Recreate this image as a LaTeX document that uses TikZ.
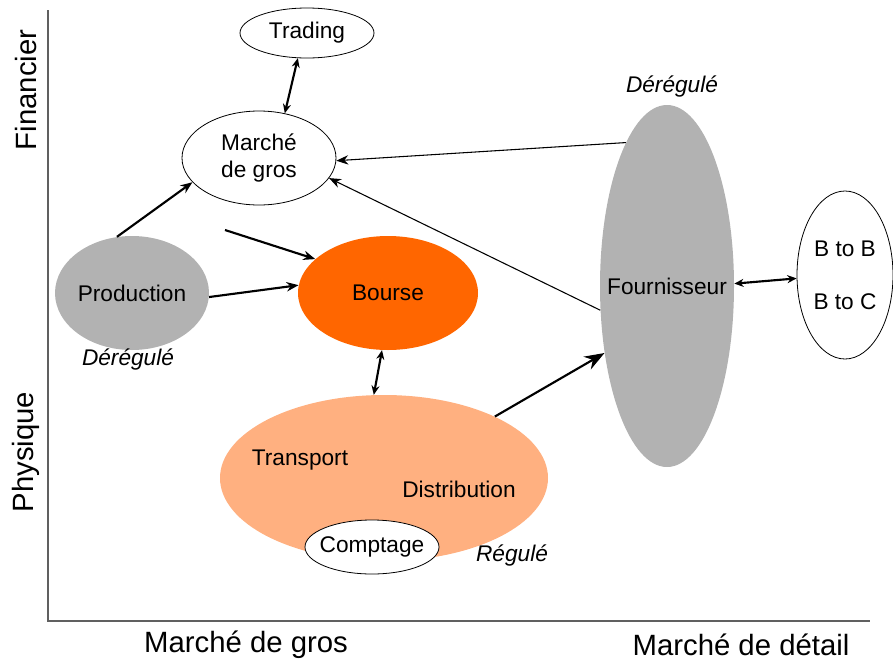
\documentclass[tikz,border=0pt]{standalone}
\usepackage{fontspec}
\setmainfont{Liberation Sans}
\usepackage{xcolor}
\usetikzlibrary{arrows.meta,positioning,shapes.geometric}

\definecolor{grisfonce}{RGB}{96,96,96}
\definecolor{grisbulle}{RGB}{178,178,178}
\definecolor{orangevif}{RGB}{255,102,0}
\definecolor{saumon}{RGB}{255,176,128}

\begin{document}
\begin{tikzpicture}[
  x=0.75pt, y=-0.75pt,
  every node/.style={font=\fontsize{17}{20}\selectfont},
  bulle/.style={ellipse, draw, line width=0.6pt, fill=white, inner sep=0pt},
  zone/.style={ellipse, inner sep=0pt},
  axetitre/.style={font=\fontsize{22}{26}\selectfont},
  statut/.style={font=\fontsize{17}{20}\selectfont\itshape},
  axe/.style={draw=grisfonce, line width=2pt},
  fleche/.style={-{Stealth[length=9pt,width=7pt]}, line width=1.6pt},
  fine/.style={-{Stealth[length=9pt,width=7pt]}, line width=0.8pt},
  double/.style={{Stealth[length=7pt,width=6pt]}-{Stealth[length=7pt,width=6pt]}, line width=1.6pt}
]
\useasboundingbox (0,0) rectangle (893,661);

% axes
\draw[axe] (48,10) -- (48,621) -- (870,621);
\node[axetitre, rotate=90] (financier) at (26,90) {Financier};
\node[axetitre, rotate=90] (physique) at (26,452) {Physique};
\node[axetitre] (axegros) at (246,645) {Marché de gros};
\node[axetitre] (axedetail) at (741,645) {Marché de détail};

% bulles
\node[bulle, minimum width=100.5pt, minimum height=37.5pt, label=center:Trading] (trading) at (307,33) {};
\node[bulle, minimum width=115.5pt, minimum height=70.5pt, label={[align=center]center:Marché\\de gros}] (marche) at (259,158) {};
\node[zone, fill=grisbulle, minimum width=115.5pt, minimum height=85.5pt, label=center:Production] (prod) at (132,293) {};
\node[zone, fill=orangevif, minimum width=135pt, minimum height=85.5pt, label=center:Bourse] (bourse) at (388,293) {};
\node[zone, fill=saumon, minimum width=246pt, minimum height=124.5pt] (reseau) at (384,478) {};
\node (transport) at (300,460) {Transport};
\node (distrib) at (459,489) {Distribution};
\node[bulle, minimum width=100.5pt, minimum height=40.5pt, label=center:Comptage] (comptage) at (372,547) {};
\node[zone, fill=grisbulle, minimum width=100.5pt, minimum height=271.5pt, label=center:Fournisseur] (fourn) at (667,286) {};
\node[bulle, minimum width=72pt, minimum height=126pt, label={[align=center]center:B to B\\[20pt]B to C}] (clients) at (845,275) {};

% statuts
\node[statut] (dereg1) at (128,360) {Dérégulé};
\node[statut] (dereg2) at (672,87) {Dérégulé};
\node[statut] (regule) at (512,555) {Régulé};

% fleches
\coordinate (libre) at (225,230);
\draw[double] (trading.250) -- (marche.60);
\draw[fleche] (prod.105) -- (marche.200);
\draw[fleche] (prod.-3) -- (bourse.175);
\draw[fleche] (libre) -- (bourse.155);
\draw[double] (bourse.264) -- (reseau.97);
\draw[-{Stealth[length=15pt,width=11pt]}, line width=1.6pt] (reseau.29) -- (fourn.227);
\draw[fine] (fourn.106) -- (marche.-2);
\draw[fine] (fourn.200) -- (marche.-16);
\draw[double] (fourn.2) -- (clients.184);
\end{tikzpicture}
\end{document}
